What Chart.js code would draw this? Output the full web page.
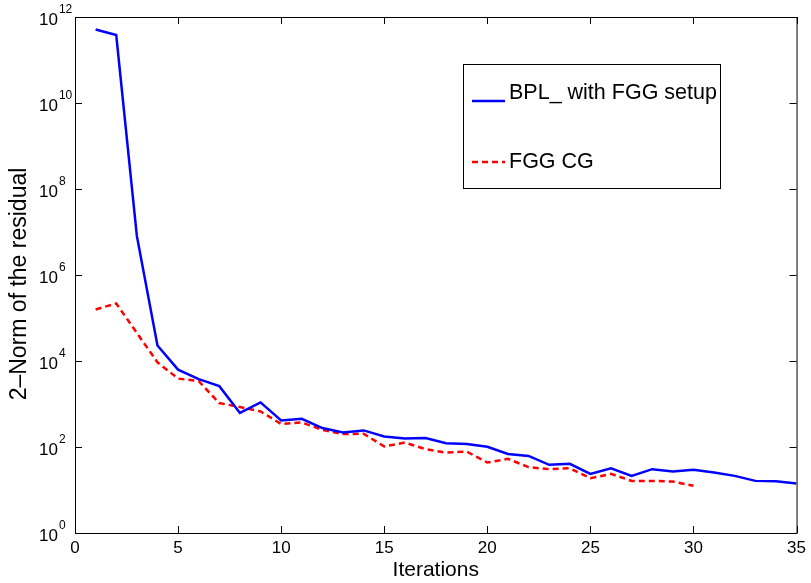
<!DOCTYPE html>
<html>
<head>
<meta charset="utf-8">
<script src="https://cdn.jsdelivr.net/npm/chart.js@4/dist/chart.umd.min.js"></script>
<style>
  html, body { margin: 0; padding: 0; background: #fff; }
  #chart { display: block; }
</style>
</head>
<body>
<canvas id="chart" width="811" height="583"></canvas>
<script>
// ===== dados =====
const iterations = [1, 2, 3, 4, 5, 6, 7, 8, 9, 10, 11, 12, 13, 14, 15, 16, 17, 18,
    19, 20, 21, 22, 23, 24, 25, 26, 27, 28, 29, 30, 31, 32, 33, 34, 35];

const bplResidual = [5.1e11, 3.8e11, 8.1e6, 2.3e4, 6.3e3, 3.8e3, 2.6e3, 620, 1090, 415,
    454, 276, 218, 243, 176, 158, 161, 123, 117, 101, 69, 62, 38.5, 40.6, 23.7,
    32, 21.3, 30.5, 26.8, 29.4, 25.5, 21.3, 16.3, 16, 14.1];

const fggResidual = [1.58e5, 2.18e5, 4.5e4, 9.3e3, 3.9e3, 3.4e3, 1050, 850, 672, 342,
    372, 251, 200, 203, 103, 127, 89, 74, 78, 43.6, 53, 34, 30.5, 32, 18.8,
    23.7, 16.3, 16.3, 15.7, 12.6];

const seriesNames = ['BPL_ with FGG setup', 'FGG CG'];
const xTicks = [0, 5, 10, 15, 20, 25, 30, 35];
const yTickExponents = [0, 2, 4, 6, 8, 10, 12];

const FONT = "'Liberation Sans', Arial, Helvetica, sans-serif";
Chart.defaults.font.family = FONT;
Chart.defaults.color = '#000';

function toPoints(values) {
    return values.map((v, i) => ({ x: iterations[i], y: v }));
}

// Moldura, ticks para dentro, rotulos 10^n e legenda (estilo MATLAB)
const matlabAxes = {
    id: 'matlabAxes',
    afterDraw(chart) {
        const ctx = chart.ctx;
        const a = chart.chartArea;
        const xs = chart.scales.x;
        const ys = chart.scales.y;
        const tick = 7;

        ctx.save();
        ctx.strokeStyle = '#000';
        ctx.lineWidth = 1;
        ctx.strokeRect(a.left + 0.5, a.top + 0.5, a.right - a.left, a.bottom - a.top);

        ctx.beginPath();
        xTicks.forEach(t => {
            const px = Math.round(xs.getPixelForValue(t)) + 0.5;
            ctx.moveTo(px, a.bottom);
            ctx.lineTo(px, a.bottom - tick);
            ctx.moveTo(px, a.top);
            ctx.lineTo(px, a.top + tick);
        });
        yTickExponents.forEach(e => {
            const py = Math.round(ys.getPixelForValue(Math.pow(10, e))) + 0.5;
            ctx.moveTo(a.left, py);
            ctx.lineTo(a.left + tick, py);
            ctx.moveTo(a.right, py);
            ctx.lineTo(a.right - tick, py);
        });
        ctx.stroke();

        // rotulos do eixo y com expoente
        ctx.fillStyle = '#000';
        ctx.textAlign = 'left';
        ctx.textBaseline = 'middle';
        yTickExponents.forEach(e => {
            const py = ys.getPixelForValue(Math.pow(10, e));
            ctx.font = '17px ' + FONT;
            ctx.fillText('10', 39, py + 3);
            const w = ctx.measureText('10').width;
            ctx.font = '12px ' + FONT;
            ctx.fillText(String(e), 39 + w + 1, py - 7);
        });

        // titulo do eixo y
        ctx.save();
        ctx.translate(20, 284);
        ctx.rotate(-Math.PI / 2);
        ctx.textAlign = 'center';
        ctx.font = '23px ' + FONT;
        ctx.fillText('2\u2013Norm of the residual', 0, 0);
        ctx.restore();

        // legenda
        const lx = 463, ly = 64, lw = 257, lh = 124;
        ctx.fillStyle = '#fff';
        ctx.fillRect(lx, ly, lw, lh);
        ctx.strokeStyle = '#000';
        ctx.lineWidth = 1;
        ctx.strokeRect(lx + 0.5, ly + 0.5, lw, lh);

        const rows = [101, 162];
        chart.data.datasets.forEach((ds, i) => {
            ctx.beginPath();
            ctx.strokeStyle = ds.borderColor;
            ctx.lineWidth = ds.borderWidth;
            ctx.setLineDash(ds.borderDash || []);
            ctx.moveTo(472, rows[i]);
            ctx.lineTo(505, rows[i]);
            ctx.stroke();
            ctx.setLineDash([]);
            ctx.fillStyle = '#000';
            ctx.font = '21.5px ' + FONT;
            ctx.textAlign = 'left';
            ctx.textBaseline = 'middle';
            ctx.fillText(ds.label, 509, rows[i] - (i === 0 ? 8 : 0));
        });
        ctx.restore();
    }
};

new Chart(document.getElementById('chart'), {
    type: 'line',
    data: {
        datasets: [
            {
                label: seriesNames[0],
                data: toPoints(bplResidual),
                borderColor: '#0000ff',
                backgroundColor: '#0000ff',
                borderWidth: 2.5,
                pointRadius: 0,
                tension: 0
            },
            {
                label: seriesNames[1],
                data: toPoints(fggResidual),
                borderColor: '#ff0000',
                backgroundColor: '#ff0000',
                borderWidth: 2.5,
                borderDash: [6, 4],
                pointRadius: 0,
                tension: 0
            }
        ]
    },
    options: {
        responsive: false,
        animation: false,
        layout: { padding: { top: 17, right: 14, left: 0, bottom: 0 } },
        plugins: {
            legend: { display: false },
            tooltip: { enabled: false }
        },
        scales: {
            x: {
                type: 'linear',
                min: 0,
                max: 35,
                afterBuildTicks: function(scale) {
                    scale.ticks = xTicks.map(v => ({ value: v }));
                },
                afterFit: function(scale) { scale.height = 50; },
                grid: { display: false, drawTicks: false },
                border: { display: false },
                ticks: {
                    font: { size: 17 },
                    color: '#000',
                    padding: 5,
                    maxRotation: 0,
                    callback: v => String(v)
                },
                title: {
                    display: true,
                    text: 'Iterations',
                    font: { size: 21 },
                    color: '#000',
                    padding: { top: 0, bottom: 0 }
                }
            },
            y: {
                type: 'logarithmic',
                min: 1,
                max: 1e12,
                afterBuildTicks: function(scale) {
                    scale.ticks = yTickExponents.map(e => ({ value: Math.pow(10, e) }));
                },
                afterFit: function(scale) { scale.width = 75; },
                grid: { display: false, drawTicks: false },
                border: { display: false },
                ticks: { callback: () => '' }
            }
        }
    },
    plugins: [matlabAxes]
});
</script>
</body>
</html>
